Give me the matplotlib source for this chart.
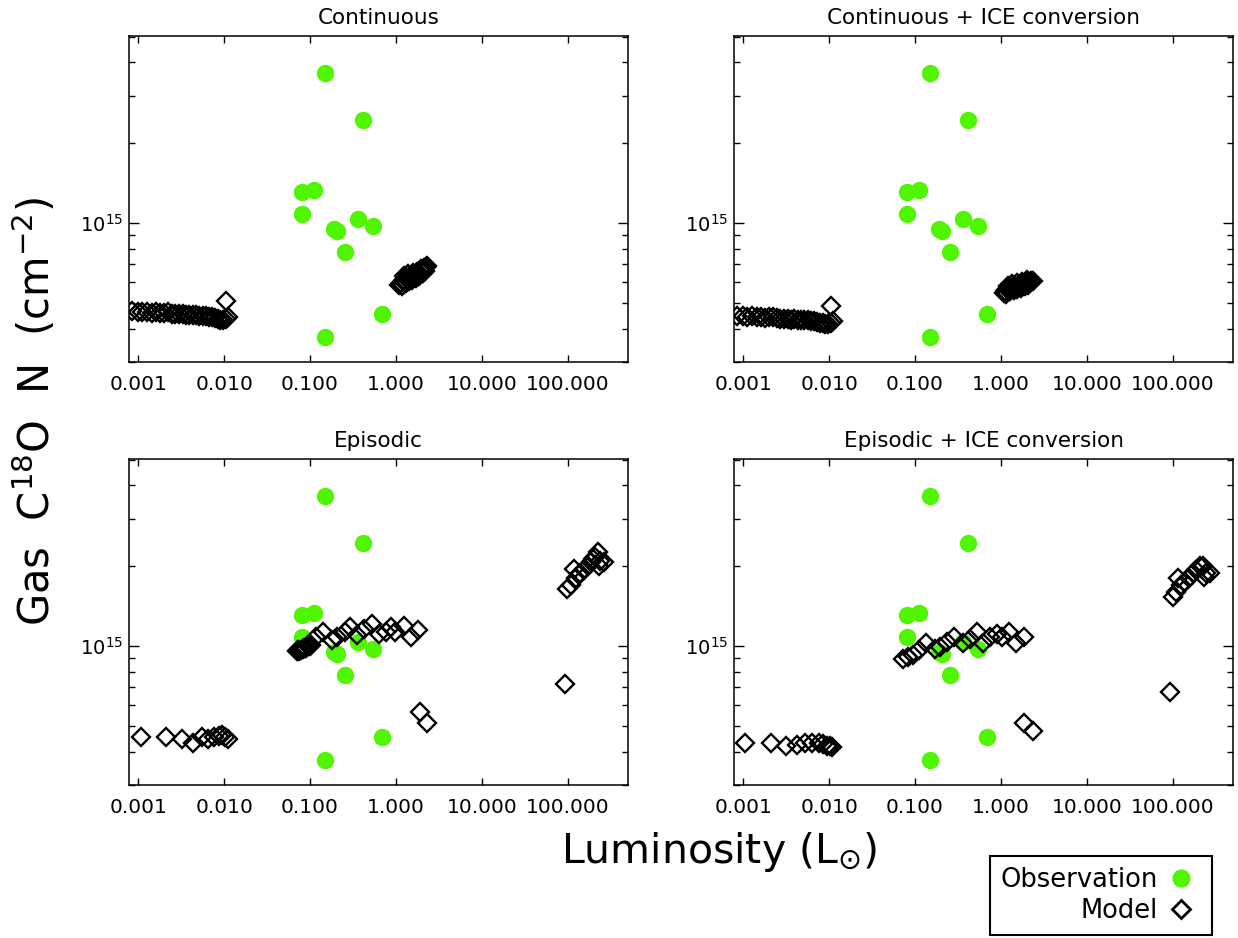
import matplotlib
matplotlib.use("Agg")
import matplotlib.pyplot as plt
from matplotlib.ticker import FixedLocator, FixedFormatter, LogLocator, NullFormatter, NullLocator
from matplotlib.lines import Line2D

# ---------------- data ----------------
titles = ["Continuous", "Continuous + ICE conversion",
          "Episodic", "Episodic + ICE conversion"]

xtick_vals = [0.001, 0.01, 0.1, 1.0, 10.0, 100.0]
xtick_labels = ["0.001", "0.010", "0.100", "1.000", "10.000", "100.000"]
ytick_vals = [1e15]
ytick_labels = ["10$^{15}$"]

obs_lum = [0.150, 0.42, 0.080, 0.110, 0.080, 0.362, 0.190, 0.209, 0.541, 0.258, 0.695, 0.150]
obs_col = [3.66e15, 2.44e15, 1.31e15, 1.33e15, 1.08e15, 1.03e15, 9.5e14, 9.29e14, 9.7e14,
           7.74e14, 4.54e14, 3.74e14]

cont_lum = [0.00085, 0.00098, 0.00112, 0.00128, 0.00145, 0.00162, 0.00180, 0.00200, 0.00222,
            0.00245, 0.00270, 0.00298, 0.00328, 0.00360, 0.00395, 0.00432, 0.00472, 0.00515,
            0.00560, 0.00610, 0.00662, 0.00718, 0.00778, 0.00840, 0.00905, 0.00970, 0.01040,
            0.01100, 0.0105,
            1.10, 1.15, 1.20, 1.26, 1.32, 1.38, 1.45, 1.52, 1.60, 1.68, 1.76, 1.85, 1.94,
            2.03, 2.12, 2.22, 2.32,
            1.18, 1.30, 1.42, 1.55, 1.70, 1.88, 2.05, 2.20,
            1.25, 1.40, 1.58, 1.75, 1.95]
cont_col = [4.66e14, 4.64e14, 4.62e14, 4.63e14, 4.60e14, 4.61e14, 4.58e14, 4.60e14, 4.62e14,
            4.56e14, 4.55e14, 4.53e14, 4.55e14, 4.50e14, 4.52e14, 4.49e14, 4.50e14, 4.47e14,
            4.48e14, 4.45e14, 4.43e14, 4.42e14, 4.38e14, 4.36e14, 4.33e14, 4.31e14, 4.35e14,
            4.42e14, 5.08e14,
            5.85e14, 5.95e14, 6.05e14, 6.12e14, 6.18e14, 6.22e14, 6.25e14, 6.28e14, 6.33e14,
            6.38e14, 6.42e14, 6.50e14, 6.58e14, 6.66e14, 6.74e14, 6.82e14, 6.88e14,
            5.80e14, 5.92e14, 6.02e14, 6.10e14, 6.20e14, 6.30e14, 6.45e14, 6.60e14,
            6.30e14, 6.40e14, 6.48e14, 6.55e14, 6.72e14]

cont_ice_lum = [0.00085, 0.00098, 0.00112, 0.00128, 0.00145, 0.00162, 0.00180, 0.00200, 0.00222,
                0.00245, 0.00270, 0.00298, 0.00328, 0.00360, 0.00395, 0.00432, 0.00472, 0.00515,
                0.00560, 0.00610, 0.00662, 0.00718, 0.00778, 0.00840, 0.00905, 0.00970, 0.01040,
                0.01100, 0.0105,
                1.08, 1.13, 1.18, 1.24, 1.30, 1.36, 1.43, 1.50, 1.58, 1.66, 1.74, 1.83, 1.92,
                2.02, 2.12, 2.24, 2.36,
                1.15, 1.28, 1.42, 1.56, 1.72, 1.90, 2.10,
                1.20, 1.35, 1.55, 1.78, 2.00]
cont_ice_col = [4.47e14, 4.45e14, 4.44e14, 4.45e14, 4.42e14, 4.43e14, 4.40e14, 4.42e14, 4.43e14,
                4.38e14, 4.37e14, 4.36e14, 4.37e14, 4.33e14, 4.34e14, 4.31e14, 4.32e14, 4.30e14,
                4.31e14, 4.28e14, 4.26e14, 4.25e14, 4.22e14, 4.20e14, 4.18e14, 4.16e14, 4.20e14,
                4.28e14, 4.88e14,
                5.45e14, 5.55e14, 5.62e14, 5.66e14, 5.68e14, 5.70e14, 5.72e14, 5.74e14, 5.77e14,
                5.80e14, 5.83e14, 5.86e14, 5.90e14, 5.94e14, 5.98e14, 6.03e14, 6.07e14,
                5.40e14, 5.52e14, 5.60e14, 5.64e14, 5.70e14, 5.78e14, 5.85e14,
                5.80e14, 5.88e14, 5.92e14, 5.98e14, 6.12e14]

epi_lum = [0.00107, 0.00209, 0.00322, 0.0043, 0.00546, 0.0065, 0.00764, 0.00883, 0.00953,
           0.0102, 0.0110,
           0.070, 0.075, 0.079, 0.083, 0.087, 0.091, 0.095, 0.100,
           0.0729, 0.0841, 0.102, 0.118, 0.143, 0.181, 0.209, 0.254, 0.293, 0.355, 0.43,
           0.521, 0.63, 0.764, 0.883, 0.972, 1.235, 1.50, 1.81,
           1.90, 2.30, 94.4,
           99.0, 109.0, 118.0, 127.0, 140.0, 157.0, 173.0, 190.0, 209.0, 226.0, 242.0, 266.0,
           230.0, 200.0]
epi_col = [4.56e14, 4.54e14, 4.46e14, 4.31e14, 4.54e14, 4.46e14, 4.56e14, 4.59e14, 4.62e14,
           4.56e14, 4.48e14,
           9.55e14, 9.60e14, 9.65e14, 9.70e14, 9.80e14, 9.85e14, 9.95e14, 1.00e15,
           9.63e14, 9.77e14, 1.006e15, 1.081e15, 1.128e15, 1.05e15, 1.08e15, 1.13e15, 1.18e15,
           1.096e15, 1.16e15, 1.21e15, 1.11e15, 1.13e15, 1.18e15, 1.13e15, 1.19e15, 1.08e15,
           1.145e15,
           5.66e14, 5.12e14, 7.18e14,
           1.64e15, 1.69e15, 1.95e15, 1.79e15, 1.87e15, 1.92e15, 2.00e15, 2.06e15, 2.15e15,
           2.25e15, 2.09e15, 2.06e15, 2.00e15, 2.12e15]

epi_ice_lum = [0.00105, 0.00213, 0.00312, 0.00419, 0.00517, 0.00638, 0.00758, 0.00850, 0.00935,
               0.0103, 0.0109,
               0.0716, 0.0826, 0.0953, 0.110, 0.133, 0.169, 0.195, 0.236, 0.286, 0.363, 0.44,
               0.532, 0.614, 0.743, 0.90, 1.04, 1.26, 1.52, 1.85,
               1.85, 2.34, 94.4,
               100.0, 110.0, 115.0, 127.0, 140.0, 154.0, 173.0, 186.0, 209.0, 226.0, 248.0,
               273.0, 230.0]
epi_ice_col = [4.31e14, 4.33e14, 4.21e14, 4.25e14, 4.31e14, 4.33e14, 4.31e14, 4.26e14, 4.21e14,
               4.19e14, 4.15e14,
               8.89e14, 9.04e14, 9.23e14, 9.63e14, 1.02e15, 9.69e14, 9.91e14, 1.035e15, 1.08e15,
               1.02e15, 1.065e15, 1.13e15, 1.02e15, 1.08e15, 1.11e15, 1.08e15, 1.13e15, 1.02e15,
               1.075e15,
               5.12e14, 4.79e14, 6.73e14,
               1.53e15, 1.59e15, 1.79e15, 1.69e15, 1.74e15, 1.79e15, 1.87e15, 1.92e15, 2.00e15,
               2.00e15, 1.87e15, 1.87e15, 1.81e15]

model_lum = [cont_lum, cont_ice_lum, epi_lum, epi_ice_lum]
model_col = [cont_col, cont_ice_col, epi_col, epi_ice_col]

# ---------------- style ----------------
plt.rcParams['font.family'] = ['DejaVu Sans']
green = '#50f500'
W, H = 1238, 938
fig = plt.figure(figsize=(W / 100, H / 100), dpi=100)

col_left = [129, 734]
col_w = 499
row_top = [36, 459]
row_h = 326

for i in range(4):
    r, c = divmod(i, 2)
    ax = fig.add_axes([col_left[c] / W, 1 - (row_top[r] + row_h) / H, col_w / W, row_h / H])
    ax.set_xscale('log')
    ax.set_yscale('log')
    ax.plot(obs_lum, obs_col, 'o', ms=12.5, color=green, mec='none', zorder=2)
    ax.plot(model_lum[i], model_col[i], 'D', ms=9.0, mfc='none', mec='black', mew=1.7, zorder=3)
    ax.set_xlim(7.8e-4, 506)
    ax.set_ylim(3.0e14, 5.03e15)
    ax.xaxis.set_major_locator(FixedLocator(xtick_vals))
    ax.xaxis.set_major_formatter(FixedFormatter(xtick_labels))
    ax.xaxis.set_minor_locator(NullLocator())
    ax.yaxis.set_major_locator(FixedLocator(ytick_vals))
    ax.yaxis.set_major_formatter(FixedFormatter(ytick_labels))
    ax.yaxis.set_minor_locator(LogLocator(base=10, subs=[2, 3, 4, 5, 6, 7, 8, 9], numticks=20))
    ax.yaxis.set_minor_formatter(NullFormatter())
    ax.tick_params(axis='x', which='major', direction='in', top=True, bottom=True,
                   length=5, width=1, labelsize=14.5, pad=9)
    ax.tick_params(axis='y', which='major', direction='in', left=True, right=True,
                   length=7, width=1, labelsize=14, pad=4)
    ax.tick_params(axis='y', which='minor', direction='in', left=True, right=True,
                   length=4, width=1)
    for s in ax.spines.values():
        s.set_linewidth(1.1)
    ax.set_title(titles[i], fontsize=15.5, pad=9)

fig.text(35 / W, 1 - 411 / H, 'Gas  C$^{18}$O  N  (cm$^{-2}$)', rotation=90,
         ha='center', va='center', fontsize=30)
fig.text(719 / W, 1 - 852 / H, 'Luminosity (L$_{\\odot}$)', ha='center', va='center',
         fontsize=29.5)

handles = [Line2D([], [], ls='none', marker='o', ms=13, color=green, mec='none'),
           Line2D([], [], ls='none', marker='D', ms=9, mfc='none', mec='black', mew=2.0)]
leg = fig.legend(handles, ['Observation', 'Model'], markerfirst=False, loc='lower right',
                 bbox_to_anchor=(1212 / W, 3 / H), borderaxespad=0, fontsize=18.5,
                 handlelength=1.55, handletextpad=0.12, borderpad=0.43, labelspacing=0.2,
                 fancybox=False, framealpha=1)
leg.get_frame().set_edgecolor('black')
leg.get_frame().set_linewidth(1.5)

fig.savefig('out.png', dpi=100)
